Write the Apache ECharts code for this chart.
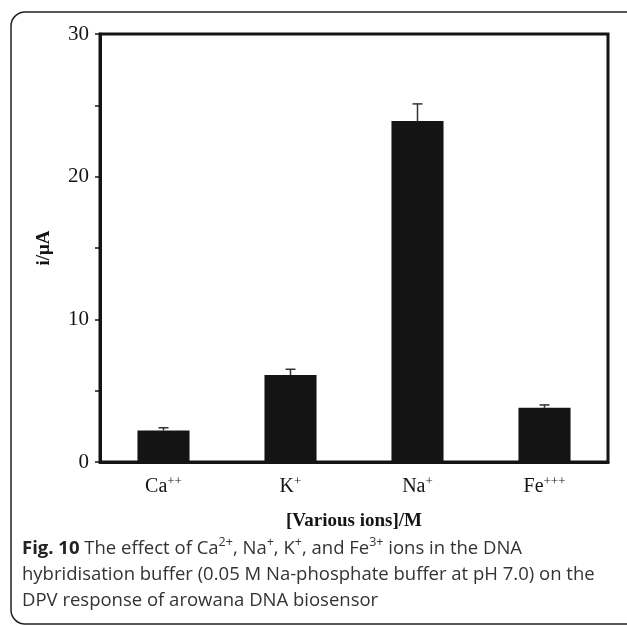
<!DOCTYPE html>
<html>
<head>
<meta charset="utf-8">
<script src="https://cdn.jsdelivr.net/npm/echarts@6/dist/echarts.min.js"></script>
<style>
  html, body { margin: 0; padding: 0; background: #fff; }
  #chart { width: 627px; height: 626px; }
</style>
</head>
<body>
<div id="chart"></div>
<script>
// Ions on the x axis, with their charge written as a superscript
const ions = ['Ca', 'K', 'Na', 'Fe'];
const charges = ['++', '+', '+', '+++'];
// Current response (i / uA) and error bar height
const currents = [2.2, 6.1, 23.9, 3.8];
const errors = [0.2, 0.4, 1.2, 0.2];
const yTicks = [0, 10, 20, 30];

const chart = echarts.init(document.getElementById('chart'));
const serif = '"Liberation Serif", "Times New Roman", serif';
const sans = '"Open Sans", "Noto Sans", sans-serif';
const ink = '#141414';

const errorData = currents.map((v, i) => [i, v, errors[i]]);

chart.setOption({
  animation: false,
  grid: {
    left: 100,
    right: 19,
    top: 34,
    bottom: 164,
    show: true,
    borderColor: ink,
    borderWidth: 3
  },
  xAxis: {
    type: 'category',
    data: ions,
    name: '[Various ions]/M',
    nameLocation: 'center',
    nameGap: 50,
    nameTextStyle: { fontFamily: serif, fontSize: 19, fontWeight: 'bold', color: ink },
    axisLine: { lineStyle: { color: ink, width: 3 } },
    axisTick: { show: false },
    axisLabel: {
      margin: 13,
      formatter: (value, index) => `{b|${value}}{s|${charges[index]}}`,
      rich: {
        b: { fontFamily: serif, fontSize: 20, color: ink, lineHeight: 24 },
        s: { fontFamily: serif, fontSize: 13, color: ink, lineHeight: 14, verticalAlign: 'top' }
      }
    }
  },
  yAxis: {
    type: 'value',
    min: 0,
    max: 30,
    interval: 5,
    name: 'i/\u03bcA',
    nameLocation: 'center',
    nameGap: 46,
    nameTextStyle: { fontFamily: serif, fontSize: 19, fontWeight: 'bold', color: ink },
    splitLine: { show: false },
    axisLine: { show: true, lineStyle: { color: ink, width: 3 } },
    axisTick: { show: true, length: 5, lineStyle: { color: ink, width: 1.5 } },
    axisLabel: {
      margin: 11,
      fontFamily: serif,
      fontSize: 21,
      color: ink,
      formatter: v => (yTicks.includes(v) ? String(v) : '')
    }
  },
  series: [
    {
      type: 'bar',
      data: currents,
      barWidth: '41%',
      itemStyle: { color: ink }
    },
    {
      type: 'custom',
      data: errorData,
      z: 5,
      renderItem: (params, api) => {
        const x = api.value(0);
        const top = api.coord([x, api.value(1) + api.value(2)]);
        const base = api.coord([x, api.value(1)]);
        const half = 5;
        const style = { stroke: '#333', lineWidth: 1.5 };
        return {
          type: 'group',
          children: [
            { type: 'line', shape: { x1: base[0], y1: base[1], x2: top[0], y2: top[1] }, style: style },
            { type: 'line', shape: { x1: top[0] - half, y1: top[1], x2: top[0] + half, y2: top[1] }, style: style }
          ]
        };
      }
    }
  ],
  graphic: [
    {
      type: 'rect',
      shape: { x: 11, y: 12, width: 700, height: 612, r: 14 },
      style: { fill: null, stroke: '#222', lineWidth: 1.5 },
      silent: true
    },
    {
      type: 'text',
      left: 22,
      top: 536,
      style: {
        text: '{f|Fig. 10} The effect of Ca{s|2+}, Na{s|+}, K{s|+}, and Fe{s|3+} ions in the DNA\n' +
              'hybridisation buffer (0.05 M Na-phosphate buffer at pH 7.0) on the\n' +
              'DPV response of arowana DNA biosensor',
        fontFamily: sans,
        fontSize: 18.5,
        lineHeight: 26,
        fill: '#333',
        rich: {
          f: { fontFamily: sans, fontSize: 18.5, fontWeight: 'bold', fill: '#222', lineHeight: 26 },
          s: { fontFamily: sans, fontSize: 12.5, fill: '#333', lineHeight: 18, verticalAlign: 'top' }
        }
      }
    }
  ]
});
</script>
</body>
</html>
